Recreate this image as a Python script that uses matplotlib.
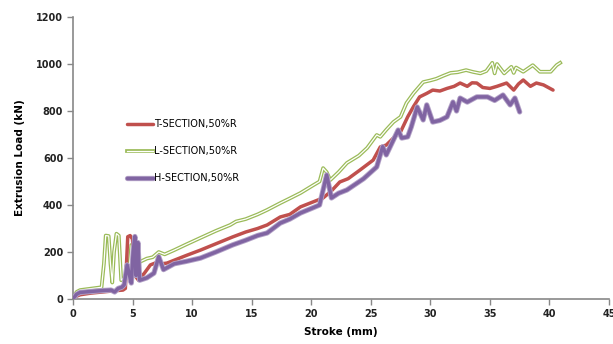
import matplotlib
matplotlib.use("Agg")
import matplotlib.pyplot as plt
import matplotlib.patheffects as pe

# ---- data ----
t_x = [0, 0.3, 0.6, 1.5, 2.5, 3.5, 4.2, 4.4, 4.6, 4.8, 5.0, 5.2, 5.5, 6.0, 6.5, 7.0, 7.5, 7.9, 8.5,
       9.5, 10.7, 12, 13.4, 14.5, 15.5, 16.3, 17.4, 18.2, 19.1, 20, 21, 21.7, 22.4, 23.1, 24.1,
       25.2, 25.8, 26.3, 27, 27.5, 28.1, 28.6, 29.1, 29.7, 30.2, 30.8, 31.4, 32.0, 32.5, 33.1,
       33.5, 33.9, 34.4, 35.0, 35.6, 36.4, 37.0, 37.4, 37.8, 38.4, 38.9, 39.5, 40.3]
t_y = [0, 12, 18, 25, 30, 35, 38, 45, 265, 270, 255, 100, 80, 110, 145, 155, 150, 153, 165,
       185, 208, 235, 264, 285, 300, 315, 349, 360, 392, 410, 430, 460, 498, 512, 549,
       591, 647, 655, 690, 711, 775, 820, 860, 875, 889, 885, 896, 905, 919, 905,
       920, 919, 900, 896, 905, 919, 889, 915, 932, 905, 919, 911, 889]

l_x = [0, 0.3, 0.6, 1.5, 2.4, 2.6, 2.75, 3.0, 3.15, 3.3, 3.45, 3.65, 3.85, 4.05, 4.3, 4.7, 4.9,
       5.1, 5.3, 5.7, 6.2, 6.7, 7.2, 7.7, 8.5, 9.5, 10.7, 12, 13.2, 13.7, 14.5, 15.5, 16.3,
       17.4, 18.2, 19.1, 20.2, 20.7, 21.0, 21.3, 21.6, 22.3, 23.0, 24.0, 24.7, 25.5, 25.8,
       26.3, 26.9, 27.5, 28.0, 28.6, 29.4, 30.0, 30.5, 31.1, 31.7, 32.3, 33.0, 33.6, 34.2,
       34.7, 35.2, 35.4, 35.6, 36.2, 36.8, 37.0, 37.2, 37.8, 38.6, 39.2, 40.1, 40.6, 40.9]
l_y = [0, 30, 38, 44, 50, 150, 270, 268, 150, 70, 200, 278, 270, 80, 90, 120, 230,
       140, 150, 160, 172, 178, 200, 190, 208, 232, 260, 290, 315, 330, 340, 360, 379,
       408, 428, 451, 485, 500, 557, 540, 506, 540, 579, 610, 643, 698, 690,
       720, 753, 775, 834, 876, 923, 930, 937, 950, 962, 965, 974, 966, 960,
       970, 1005, 960, 1000, 960, 988, 962, 985, 967, 995, 967, 967, 995, 1005]

h_x = [0, 0.3, 0.6, 1.5, 2.5, 3.2, 3.5, 3.8, 4.1, 4.3, 4.55, 4.75, 4.9, 5.05, 5.2, 5.3, 5.45,
       5.6, 6.2, 6.8, 7.2, 7.6, 8.5, 9.5, 10.7, 12, 13.4, 14.5, 15.5, 16.3, 17.4, 18.2, 19.1,
       20, 20.7, 21.3, 21.7, 22.3, 23, 24.4, 25.5, 26.0, 26.3, 27.3, 27.6, 28.1, 28.4, 28.9,
       29.4, 29.7, 30.2, 30.8, 31.4, 31.6, 31.9, 32.2, 32.5, 33.1, 33.9, 34.8, 35.4, 36.1,
       36.7, 37.1, 37.5]
h_y = [0, 20, 28, 32, 36, 38, 30, 45, 50, 60, 145, 100, 68, 200, 266, 100, 240,
       80, 90, 110, 180, 125, 150, 160, 174, 200, 230, 250, 270, 281, 323, 340, 366,
       385, 400, 528, 430, 450, 464, 512, 562, 648, 613, 719, 685, 690, 732, 817,
       762, 826, 753, 760, 775, 800, 838, 800, 855, 838, 860, 860, 845, 868,
       826, 855, 796]

labels = ["T-SECTION,50%R", "L-SECTION,50%R", "H-SECTION,50%R"]
x_ticks = [0, 5, 10, 15, 20, 25, 30, 35, 40, 45]
y_ticks = [0, 200, 400, 600, 800, 1000, 1200]

red = "#C0504D"
green = "#9BBB59"
purple = "#8064A2"

fig = plt.figure(figsize=(6.13, 3.44), dpi=100)
ax = fig.add_axes([0.119, 0.1308, 0.8745, 0.8198])

# T section
lt, = ax.plot(t_x, t_y, color=red, lw=2.5, solid_capstyle="round", solid_joinstyle="round",
              zorder=3, label=labels[0])
# L section (double line)
lg, = ax.plot(l_x, l_y, color="white", lw=0.9, solid_joinstyle="round", zorder=2,
              label=labels[1],
              path_effects=[pe.Stroke(linewidth=2.7, foreground=green), pe.Normal()])
# H section with soft glow
lh, = ax.plot(h_x, h_y, color=purple, lw=2.5, solid_capstyle="round", solid_joinstyle="round",
              zorder=4, label=labels[2],
              path_effects=[pe.Stroke(linewidth=3.8, foreground="#B3A2C7"), pe.Normal()])

ax.set_xlim(0, 45)
ax.set_ylim(0, 1200)
ax.set_xticks(x_ticks)
ax.set_yticks(y_ticks)
ax.set_xticklabels([str(v) for v in x_ticks], fontsize=7, fontweight="bold", color="#222222")
ax.set_yticklabels([str(v) for v in y_ticks], fontsize=7, fontweight="bold", color="#222222")
ax.tick_params(axis="both", direction="out", length=4, width=1, color="#888888", pad=3)
for s in ["top", "right"]:
    ax.spines[s].set_visible(False)
for s in ["left", "bottom"]:
    ax.spines[s].set_color("#888888")
    ax.spines[s].set_linewidth(1.2)

ax.set_xlabel("Stroke (mm)", fontsize=7.5, fontweight="bold", labelpad=6)
ax.set_ylabel("Extrusion Load (kN)", fontsize=7.5, fontweight="bold", labelpad=8)

leg = ax.legend(loc="upper left", bbox_to_anchor=(0.085, 0.668), frameon=False,
                fontsize=7, labelspacing=1.75, handlelength=2.6, handletextpad=0.2)

fig.savefig("out.png", dpi=100)
